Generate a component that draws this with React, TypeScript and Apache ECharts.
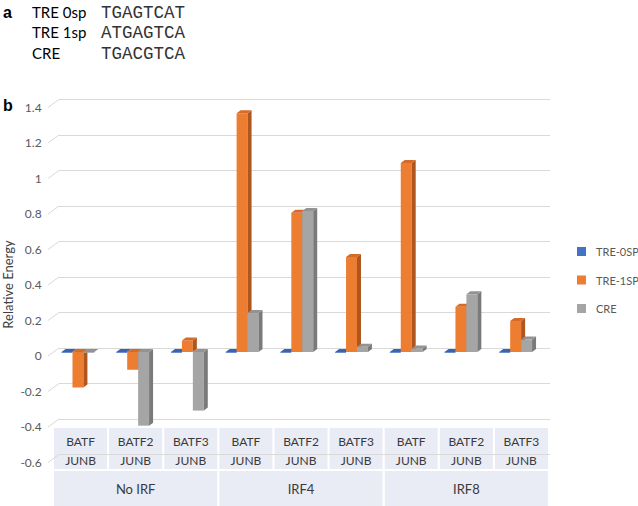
import React, { useEffect, useRef } from 'react';
import * as echarts from 'echarts';

const categories = ['BATF\nJUNB', 'BATF2\nJUNB', 'BATF3\nJUNB', 'BATF\nJUNB', 'BATF2\nJUNB', 'BATF3\nJUNB', 'BATF\nJUNB', 'BATF2\nJUNB', 'BATF3\nJUNB'];
const groups = ['No IRF', 'IRF4', 'IRF8'];
const seriesNames = ['TRE-0SP', 'TRE-1SP', 'CRE'];
const tre0 = [0, 0, 0, 0, 0, 0, 0, 0, 0];
const tre1 = [-0.2, -0.1, 0.065, 1.345, 0.785, 0.535, 1.065, 0.255, 0.175];
const cre = [0, -0.415, -0.33, 0.22, 0.795, 0.03, 0.02, 0.325, 0.07];
const yTicks = [-0.6, -0.4, -0.2, 0, 0.2, 0.4, 0.6, 0.8, 1, 1.2, 1.4];
const motifNames = ['TRE 0sp', 'TRE 1sp', 'CRE'];
const motifSeqs = ['TGAGTCAT', 'ATGAGTCA', 'TGACGTCA'];

const palette = [
  { front: '#4472C4', side: '#2F5597', top: '#3A64B0' },
  { front: '#ED7D31', side: '#AE561D', top: '#D46B28' },
  { front: '#A5A5A5', side: '#7A7A7A', top: '#939393' },
];

const DX = 4;
const DY = -3;

function makeRender(idx: number) {
  return (params: any, api: any) => {
    const ci = api.value(0);
    const v = api.value(1);
    const base = api.coord([ci, 0]);
    const tip = api.coord([ci, v]);
    const band = api.size([1, 0])[0];
    const w = band * 0.2;
    const x = base[0] - 1.5 * w + idx * w;
    const yTop = Math.min(base[1], tip[1]);
    const yBot = Math.max(base[1], tip[1]);
    const c = palette[idx];
    return {
      type: 'group',
      children: [
        {
          type: 'rect',
          shape: { x, y: yTop, width: w, height: Math.max(yBot - yTop, 0.8) },
          style: { fill: c.front },
        },
        {
          type: 'polygon',
          shape: {
            points: [
              [x + w, yTop],
              [x + w + DX, yTop + DY],
              [x + w + DX, yBot + DY],
              [x + w, yBot],
            ],
          },
          style: { fill: c.side },
        },
        {
          type: 'polygon',
          shape: {
            points: [
              [x, yTop],
              [x + DX, yTop + DY],
              [x + w + DX, yTop + DY],
              [x + w, yTop],
            ],
          },
          style: { fill: c.top },
        },
      ],
    };
  };
}

export default function App() {
  const ref = useRef<HTMLDivElement>(null);
  useEffect(() => {
    document.body.style.margin = '0';
    const chart = echarts.init(ref.current!, null, { renderer: 'svg' });
    const allData = [tre0, tre1, cre];
    const headerGraphics: any[] = [
      { type: 'text', left: 3, top: 4, style: { text: 'a', fontFamily: 'Liberation Sans', fontWeight: 'bold', fontSize: 16, fill: '#000' } },
      { type: 'text', left: 3, top: 97, style: { text: 'b', fontFamily: 'Liberation Sans', fontWeight: 'bold', fontSize: 16, fill: '#000' } },
    ];
    motifNames.forEach((n, i) => {
      headerGraphics.push({ type: 'text', left: 32, top: 4 + i * 20.7, style: { text: n, fontFamily: 'Lato', fontSize: 15, fill: '#000' } });
      headerGraphics.push({ type: 'text', left: 101, top: 3.5 + i * 20.7, style: { text: motifSeqs[i], fontFamily: 'Liberation Mono', fontSize: 17.5, fill: '#333' } });
    });
    const hiddenAxis = { show: false };
    const option: any = {
      animation: false,
      textStyle: { fontFamily: 'Lato' },
      graphic: headerGraphics,
      legend: {
        orient: 'vertical',
        left: 577,
        top: 246,
        itemWidth: 9,
        itemHeight: 9,
        itemGap: 17.5,
        padding: 0,
        textStyle: { fontSize: 11, color: '#595959', fontFamily: 'Lato', padding: [0, 0, 0, 5] },
        data: seriesNames.map((n) => ({ name: n, icon: 'rect' })),
      },
      grid: [
        { left: 50.6, width: 492.4, top: 103.5, height: 355, outerBoundsMode: 'none', containLabel: false },
        { left: 59, width: 491, top: 99.5, height: 355, outerBoundsMode: 'none', containLabel: false },
        { left: 53, width: 496, top: 300, height: 128, outerBoundsMode: 'none', containLabel: false },
        { left: 50.6, width: 492.4, top: 107, height: 355, outerBoundsMode: 'none', containLabel: false },
      ],
      xAxis: [
        { type: 'category', gridIndex: 0, data: categories, ...hiddenAxis },
        { type: 'value', gridIndex: 1, min: 0, max: 1, ...hiddenAxis },
        {
          type: 'category',
          gridIndex: 2,
          data: categories,
          position: 'bottom',
          z: 0,
          axisLine: { show: false },
          axisTick: { show: false },
          splitLine: { show: false },
          axisLabel: {
            interval: 0,
            margin: 0,
            width: 53,
            height: 37,
            lineHeight: 19,
            padding: [4, 0, 0, 0],
            align: 'center',
            verticalAlign: 'top',
            backgroundColor: '#E9EBF5',
            color: '#3A3A3A',
            fontSize: 12,
            fontFamily: 'Lato',
          },
        },
        {
          type: 'category',
          gridIndex: 2,
          data: groups,
          position: 'bottom',
          offset: 43,
          z: 0,
          axisLine: { show: false },
          axisTick: { show: false },
          splitLine: { show: false },
          axisLabel: {
            interval: 0,
            margin: 0,
            width: 163,
            height: 27,
            lineHeight: 20,
            padding: [8, 0, 0, 0],
            align: 'center',
            verticalAlign: 'top',
            backgroundColor: '#E9EBF5',
            color: '#3A3A3A',
            fontSize: 13,
            fontFamily: 'Lato',
          },
        },
        { type: 'category', gridIndex: 3, data: categories, ...hiddenAxis },
      ],
      yAxis: [
        { type: 'value', gridIndex: 0, min: -0.6, max: 1.4, interval: 0.2, ...hiddenAxis },
        {
          type: 'value',
          gridIndex: 1,
          min: -0.6,
          max: 1.4,
          interval: 0.2,
          z: 1,
          axisLine: { show: false },
          axisTick: { show: false },
          axisLabel: { show: false },
          splitLine: { show: true, lineStyle: { color: '#D9D9D9', width: 1 } },
        },
        { type: 'value', gridIndex: 2, ...hiddenAxis },
        {
          type: 'value',
          gridIndex: 3,
          min: -0.6,
          max: 1.4,
          interval: 0.2,
          name: 'Relative Energy',
          nameLocation: 'middle',
          nameGap: 36,
          nameRotate: 90,
          nameMoveOverlap: false,
          nameTextStyle: { fontSize: 13, color: '#404040', fontFamily: 'Lato' },
          axisLine: { show: false },
          axisTick: { show: false },
          splitLine: { show: false },
          axisLabel: {
            margin: 9,
            fontSize: 12,
            color: '#595959',
            fontFamily: 'Lato',
            formatter: (v: number) => String(Math.round(v * 10) / 10),
          },
        },
      ],
      series: [
        {
          type: 'custom',
          xAxisIndex: 1,
          yAxisIndex: 1,
          silent: true,
          z: 1,
          clip: false,
          data: yTicks.map((v) => [0, v]),
          renderItem: (p: any, api: any) => {
            const c = api.coord([0, api.value(1)]);
            return {
              type: 'line',
              shape: { x1: c[0] - 11, y1: c[1] + 8, x2: c[0], y2: c[1] },
              style: { stroke: '#D9D9D9', lineWidth: 1 },
            };
          },
        },
        ...seriesNames.map((name, idx) => ({
          type: 'custom',
          name,
          xAxisIndex: 0,
          yAxisIndex: 0,
          clip: false,
          z: 3,
          itemStyle: { color: palette[idx].front },
          data: allData[idx].map((v, i) => [i, v]),
          renderItem: makeRender(idx),
        })),
      ],
    };
    chart.setOption(option);
    return () => chart.dispose();
  }, []);
  return <div ref={ref} style={{ width: 638, height: 506 }} />;
}
